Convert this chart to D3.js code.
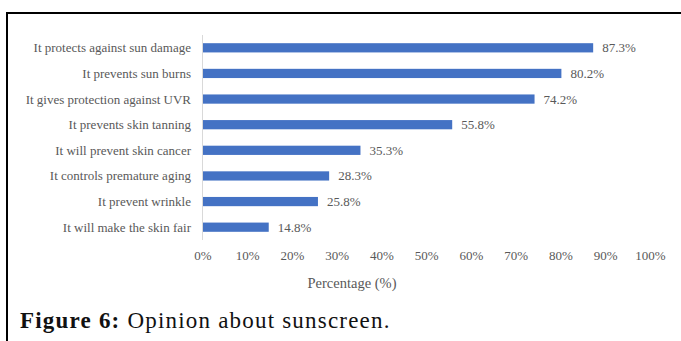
<!DOCTYPE html>
<html>
<head>
<meta charset="utf-8">
<script src="https://cdn.jsdelivr.net/npm/d3@7"></script>
<style>
  html, body { margin: 0; padding: 0; background: #fff; }
  svg { display: block; }
</style>
</head>
<body>
<svg id="chart" width="681" height="341"></svg>
<script>
// Survey responses: opinion about sunscreen
const categories = [
  "It protects against sun damage",
  "It prevents sun burns",
  "It gives protection against UVR",
  "It prevents skin tanning",
  "It will prevent skin cancer",
  "It controls premature aging",
  "It prevent wrinkle",
  "It will make the skin fair"
];
const percentages = [87.3, 80.2, 74.2, 55.8, 35.3, 28.3, 25.8, 14.8];
const tickValues = [0, 10, 20, 30, 40, 50, 60, 70, 80, 90, 100];
const axisTitle = "Percentage (%)";
const captionBold = "Figure 6:";
const captionText = " Opinion about sunscreen.";

const svg = d3.select("#chart");
const serif = "'Liberation Serif', 'Times New Roman', serif";
const textGray = "#595959";

// Frame: top and left rules
svg.append("line").attr("x1", 6).attr("x2", 681).attr("y1", 13).attr("y2", 13)
  .attr("stroke", "#000").attr("stroke-width", 2);
svg.append("line").attr("x1", 7).attr("x2", 7).attr("y1", 12).attr("y2", 341)
  .attr("stroke", "#000").attr("stroke-width", 2);

const x = d3.scaleLinear().domain([0, 100]).range([202.5, 650]);
const y = d3.scaleBand().domain(categories).range([35, 240]).paddingInner(0.64).paddingOuter(0.32);

// Category axis line
svg.append("line")
  .attr("x1", x(0)).attr("x2", x(0))
  .attr("y1", 35).attr("y2", 240)
  .attr("stroke", "#d9d9d9").attr("stroke-width", 1);

// Bars
svg.append("g").selectAll("rect")
  .data(categories)
  .join("rect")
  .attr("x", x(0) + 0.5)
  .attr("y", d => y(d))
  .attr("width", (d, i) => x(percentages[i]) - x(0) - 0.5)
  .attr("height", y.bandwidth())
  .attr("fill", "#4472C4");

// Category labels
svg.append("g").selectAll("text")
  .data(categories)
  .join("text")
  .attr("x", 191)
  .attr("y", d => y(d) + y.bandwidth() / 2)
  .attr("dy", "0.35em")
  .attr("text-anchor", "end")
  .attr("font-family", serif)
  .attr("font-size", 13)
  .attr("fill", textGray)
  .text(d => d);

// Value labels
svg.append("g").selectAll("text")
  .data(categories)
  .join("text")
  .attr("x", (d, i) => x(percentages[i]) + 9)
  .attr("y", d => y(d) + y.bandwidth() / 2)
  .attr("dy", "0.35em")
  .attr("font-family", serif)
  .attr("font-size", 13)
  .attr("fill", textGray)
  .text((d, i) => percentages[i].toFixed(1) + "%");

// Percentage axis (no domain line or tick marks)
const xAxis = d3.axisBottom(x)
  .tickValues(tickValues)
  .tickSize(0)
  .tickPadding(0)
  .tickFormat(d => d + "%");
const gx = svg.append("g").attr("transform", "translate(0,251)").call(xAxis);
gx.select(".domain").remove();
gx.selectAll("text")
  .attr("font-family", serif)
  .attr("font-size", 13)
  .attr("fill", textGray)
  .attr("dy", "0.71em");

// Axis title
svg.append("text")
  .attr("x", 352)
  .attr("y", 288)
  .attr("text-anchor", "middle")
  .attr("font-family", serif)
  .attr("font-size", 14.5)
  .attr("fill", textGray)
  .text(axisTitle);

// Caption
const cap = svg.append("text")
  .attr("x", 20)
  .attr("y", 328)
  .attr("font-family", serif)
  .attr("font-size", 23)
  .attr("letter-spacing", 1.2)
  .attr("fill", "#111");
cap.append("tspan").attr("font-weight", "bold").text(captionBold);
cap.append("tspan").text(captionText);
</script>
</body>
</html>
